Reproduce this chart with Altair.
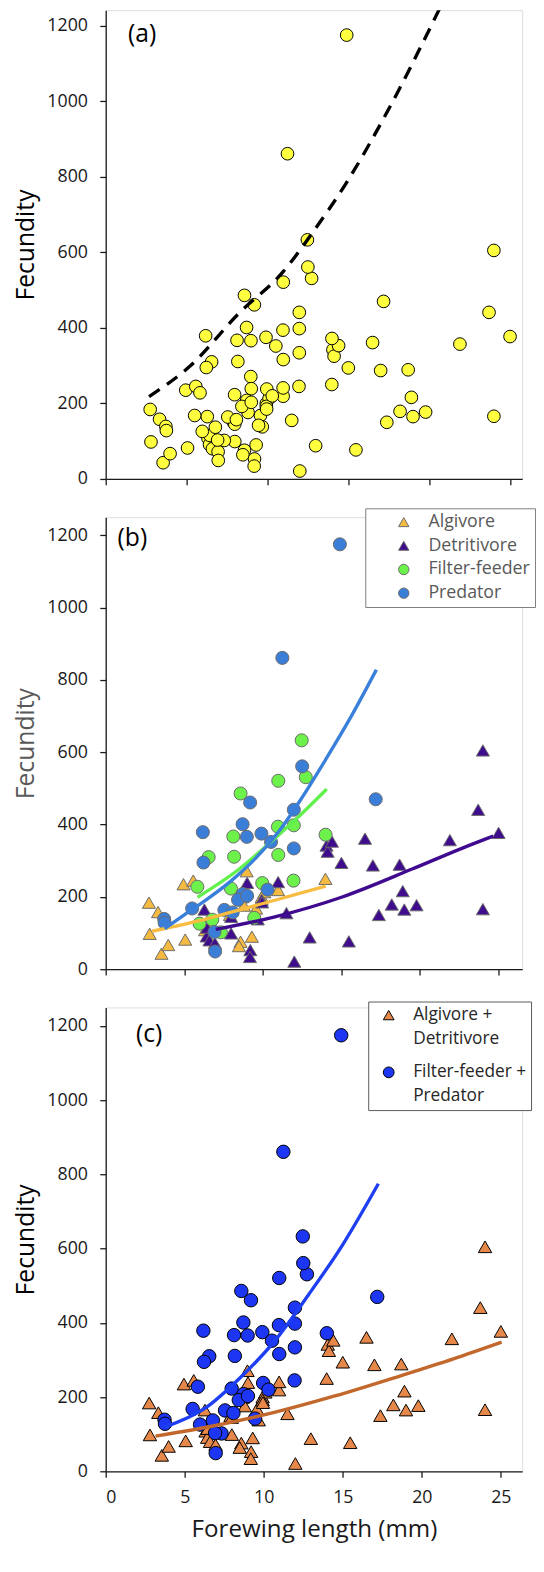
import altair as alt
import pandas as pd

FONT = "Open Sans"

# ---------------- data ----------------
alg_x = [2.75, 3.33, 2.80, 3.55, 3.98, 5.06, 4.95, 5.57, 8.97, 13.98, 10.97, 9.30, 8.58, 8.48, 8.67, 9.57, 9.93, 6.32, 8.80, 7.90, 10.10]
alg_y = [184, 158, 98, 43, 67, 82, 235, 245, 271, 250, 219, 90, 76, 64, 199, 168, 200, 108, 176, 150, 213]

det_x = [24.0, 23.7, 25.0, 21.9, 16.5, 14.05, 14.12, 14.4, 15.0, 17.0, 18.7, 18.9, 18.2, 19.0, 19.78, 17.38, 24.0,
         15.47, 12.98, 12.0, 11.5, 10.97, 9.0, 9.93, 9.2, 9.18, 6.28, 7.98, 7.98, 9.68, 6.42, 6.6, 6.95, 6.45, 9.95]
det_y = [605, 441, 377, 357, 361, 342, 325, 353, 294, 287, 289, 216, 179, 165, 177, 150, 166,
         77, 88, 21, 155, 241, 239, 192, 53, 34, 165, 145, 99, 138, 91, 80, 72, 115, 185]

fil_x = [12.47, 12.73, 10.98, 8.58, 10.96, 11.97, 8.12, 13.99, 6.55, 8.17, 10.98, 5.83, 9.96, 11.95, 7.97, 9.45, 5.97, 6.78, 7.33]
fil_y = [633, 531, 521, 486, 394, 398, 367, 372, 310, 311, 316, 228, 238, 245, 223, 142, 126, 137, 102]

pre_x = [14.9, 11.24, 12.5, 9.19, 11.97, 17.18, 8.71, 6.18, 8.98, 9.91, 10.52, 11.97, 6.22, 10.3, 8.72, 8.42, 9.0,
         5.5, 3.72, 3.75, 7.55, 8.08, 6.92, 6.96]
pre_y = [1175, 861, 561, 461, 441, 470, 401, 379, 366, 375, 352, 334, 295, 220, 208, 192, 203,
         168, 139, 128, 164, 157, 103, 49]

# fitted curves
fit_a_x = [2.68, 5.27, 8.22, 10.96, 12.82, 14.97, 17.28, 20.7]
fit_a_y = [218, 301, 438, 548, 654, 790, 962, 1250]

fit_b_pre_x = [3.75, 5.0, 6.5, 8.0, 9.5, 11.0, 12.5, 14.0, 15.5, 17.22]
fit_b_pre_y = [112, 150, 195, 245, 305, 380, 475, 580, 690, 828]
fit_b_fil_x = [5.84, 8.5, 10.68, 12.42, 14.06]
fit_b_fil_y = [199, 277, 359, 428, 498]
fit_b_alg_x = [2.96, 6.3, 10.7, 14.0]
fit_b_alg_y = [105, 138, 190, 230]
fit_b_det_x = [7.0, 10.7, 15.0, 19.5, 22.7, 24.65]
fit_b_det_y = [110, 144, 199, 277, 335, 368]

fit_c_fp_x = [3.73, 6.29, 8.46, 10.63, 12.8, 14.97, 17.25]
fit_c_fp_y = [119, 170, 250, 348, 474, 609, 775]
fit_c_ad_x = [3.15, 6.3, 10.6, 14.5, 18.7, 22.0, 25.05]
fit_c_ad_y = [95, 118, 158, 203, 258, 303, 348]

groups = ["Algivore", "Detritivore", "Filter-feeder", "Predator"]
combos = ["Algivore + Detritivore", "Filter-feeder + Predator"]

rows = []
for g, xs, ys in [("Algivore", alg_x, alg_y), ("Detritivore", det_x, det_y),
                  ("Filter-feeder", fil_x, fil_y), ("Predator", pre_x, pre_y)]:
    for xv, yv in zip(xs, ys):
        rows.append({"x": xv, "y": yv, "group": g,
                     "combo": combos[0] if g in ("Algivore", "Detritivore") else combos[1]})
pts = pd.DataFrame(rows)
pts["order"] = range(len(pts))


def line_df(xs, ys):
    return pd.DataFrame({"x": xs, "y": ys, "i": range(len(xs))})


AX = "#1a1a1a"


def xaxis(labels):
    kw = dict(values=[0, 5, 10, 15, 20, 25], grid=False, domainColor=AX, tickColor=AX,
              tickSize=6, domainWidth=1.3, tickWidth=1.3)
    if labels:
        return alt.Axis(title="Forewing length (mm)", labelFont=FONT, labelFontSize=18,
                        labelColor=AX, labelPadding=12, titleFont=FONT, titleFontSize=24.5,
                        titleFontWeight="normal", titleColor=AX, titlePadding=11, **kw)
    return alt.Axis(title=None, labels=False, **kw)


def yaxis(tcolor):
    return alt.Axis(values=list(range(0, 1201, 200)), format="d", title="Fecundity", grid=False,
                    domainColor=AX, tickColor=AX, tickSize=6, domainWidth=1.3, tickWidth=1.3,
                    labelFont=FONT, labelFontSize=18, labelColor=AX, labelPadding=12.5,
                    titleFont=FONT, titleFontSize=25, titleFontWeight="normal",
                    titleColor=tcolor, titlePadding=8.5)


def make_enc(xdom, ydom, labels, tcolor):
    ex = alt.X("x:Q", scale=alt.Scale(domain=xdom, nice=False), axis=xaxis(labels))
    ey = alt.Y("y:Q", scale=alt.Scale(domain=ydom, nice=False), axis=yaxis(tcolor))
    return ex, ey


def fit(xs, ys, color, enc, dash=None, width=3.4):
    kw = dict(color=color, strokeWidth=width, interpolate="monotone", clip=True)
    if dash:
        kw["strokeDash"] = dash
    return alt.Chart(line_df(xs, ys)).mark_line(**kw).encode(
        x=enc[0], y=enc[1], order="i:Q")


def tag(txt, px, py):
    return alt.Chart(pd.DataFrame({"t": [txt]})).mark_text(
        font=FONT, fontSize=25, color="black", align="center", baseline="middle"
    ).encode(text="t:N", x=alt.value(px), y=alt.value(py))


# ---------------- panel (a) ----------------
enc_a = make_enc([0, 25.75], [0, 1241], False, "black")
pa_pts = alt.Chart(pts).mark_point(filled=True, size=165, opacity=1, shape="circle",
                                   fill="#FFFF40", stroke="black", strokeWidth=1).encode(
    x=enc_a[0], y=enc_a[1], order="order:Q")
panel_a = alt.layer(
    pa_pts,
    fit(fit_a_x, fit_a_y, "black", enc_a, dash=[13, 9]),
    tag("(a)", 37, 24),
).properties(width=422, height=475)

# ---------------- panel (b) ----------------
enc_b = make_enc([0, 26.5], [0, 1250], False, "#595959")
leg_b = alt.Legend(title=None, orient="none", legendX=263, legendY=-9, direction="vertical",
                   strokeColor="#7f7f7f", fillColor="white", padding=5,
                   symbolOffset=25, labelOffset=16, labelFont=FONT, labelFontSize=18,
                   labelColor="#595959", rowPadding=6, symbolSize=110,
                   symbolStrokeColor="#6b6b6b", symbolStrokeWidth=1, labelLimit=0)
pb_pts = alt.Chart(pts).mark_point(filled=True, size=175, opacity=1, stroke="#6b6b6b",
                                   strokeWidth=1).encode(
    x=enc_b[0], y=enc_b[1],
    color=alt.Color("group:N", scale=alt.Scale(domain=groups,
                    range=["#F5BA42", "#3F0C8E", "#6CF24B", "#3B7ED8"]), legend=leg_b),
    shape=alt.Shape("group:N", scale=alt.Scale(domain=groups,
                    range=["triangle-up", "triangle-up", "circle", "circle"]), legend=leg_b),
    order="order:Q")
panel_b = alt.layer(
    pb_pts,
    fit(fit_b_alg_x, fit_b_alg_y, "#F7BC40", enc_b),
    fit(fit_b_det_x, fit_b_det_y, "#3F0A8F", enc_b),
    fit(fit_b_fil_x, fit_b_fil_y, "#62F04E", enc_b),
    fit(fit_b_pre_x, fit_b_pre_y, "#3A80DA", enc_b),
    tag("(b)", 27, 21),
).properties(width=422, height=458)

# ---------------- panel (c) ----------------
enc_c = make_enc([0, 26.35], [0, 1250], True, "black")
leg_c = alt.Legend(title=None, orient="none", legendX=266, legendY=-6, direction="vertical",
                   strokeColor="#595959", fillColor="white", padding=5,
                   symbolOffset=7, labelOffset=16, labelFont=FONT, labelFontSize=17.5,
                   labelColor="#262626", labelBaseline="middle", rowPadding=15, symbolSize=120,
                   symbolStrokeColor="black", symbolStrokeWidth=1, labelLimit=0,
                   labelExpr="datum.label == 'Algivore + Detritivore' ? ['Algivore +', 'Detritivore'] : ['Filter-feeder +', 'Predator']")
pc_pts = alt.Chart(pts).mark_point(filled=True, size=185, opacity=1, stroke="black",
                                   strokeWidth=1).encode(
    x=enc_c[0], y=enc_c[1],
    color=alt.Color("combo:N", scale=alt.Scale(domain=combos, range=["#E5884A", "#1C36F3"]),
                    legend=leg_c),
    shape=alt.Shape("combo:N", scale=alt.Scale(domain=combos, range=["triangle-up", "circle"]),
                    legend=leg_c),
    order="order:Q")
panel_c = alt.layer(
    pc_pts,
    fit(fit_c_ad_x, fit_c_ad_y, "#C2682C", enc_c),
    fit(fit_c_fp_x, fit_c_fp_y, "#1E3EF2", enc_c),
    tag("(c)", 44, 27),
).properties(width=422, height=470)

chart = alt.vconcat(panel_a, panel_b, panel_c, spacing=38.75, bounds="flush").resolve_scale(
    x="independent", y="independent", color="independent", shape="independent"
).configure_view(stroke=None).configure_legend(strokeWidth=1.3).configure(
    style={"guide-label": {"lineHeight": 24}}
).properties(padding={"left": 5, "top": -9, "right": 0, "bottom": -5})

chart.save("out.html", embed_options={"renderer": "svg", "actions": False})
